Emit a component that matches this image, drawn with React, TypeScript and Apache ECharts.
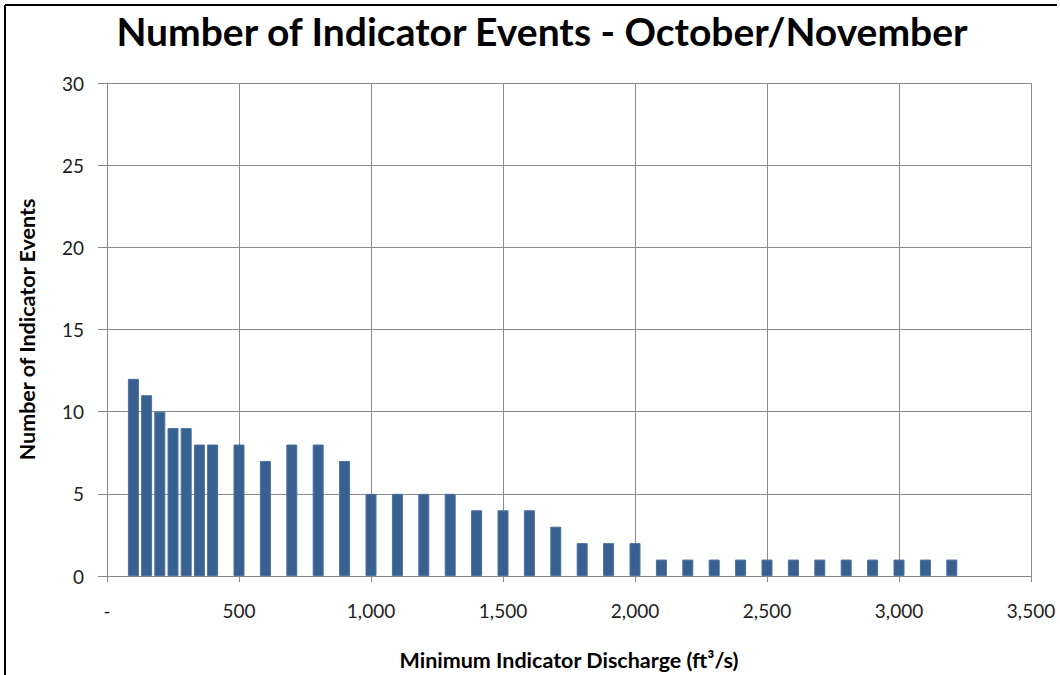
import React, { useEffect, useRef } from "react";
import * as echarts from "echarts";

const discharge = [100, 150, 200, 250, 300, 350, 400, 500, 600, 700, 800, 900, 1000, 1100, 1200, 1300, 1400, 1500, 1600, 1700, 1800, 1900, 2000, 2100, 2200, 2300, 2400, 2500, 2600, 2700, 2800, 2900, 3000, 3100, 3200];
const events = [12, 11, 10, 9, 9, 8, 8, 8, 7, 8, 8, 7, 5, 5, 5, 5, 4, 4, 4, 3, 2, 2, 2, 1, 1, 1, 1, 1, 1, 1, 1, 1, 1, 1, 1];
const titleText = "Number of Indicator Events - October/November";
const yTitle = "Number of Indicator Events";
const xTitle = "Minimum Indicator Discharge (ft³/s)";

const FONT = "Lato, 'Open Sans', sans-serif";

export default function App() {
  const ref = useRef<HTMLDivElement>(null);
  useEffect(() => {
    document.body.style.margin = "0";
    const chart = echarts.init(ref.current!, null, { renderer: "svg" });
    chart.setOption({
      animation: false,
      backgroundColor: "#ffffff",
      title: {
        text: titleText,
        left: 537,
        top: 6,
        textAlign: "center",
        textStyle: { fontFamily: FONT, fontWeight: "bold", fontSize: 39, color: "#000" },
      },
      grid: { left: 107, right: 29, top: 83, bottom: 99, outerBoundsMode: "none", containLabel: false },
      xAxis: {
        type: "value",
        min: 0,
        max: 3500,
        interval: 500,
        name: xTitle,
        nameLocation: "middle",
        nameGap: 73,
        nameTextStyle: { fontFamily: FONT, fontWeight: "bold", fontSize: 21.5, color: "#000" },
        axisLine: { show: true, onZero: false, lineStyle: { color: "#888", width: 1 } },
        axisTick: { show: true, length: 6, lineStyle: { color: "#888" } },
        splitLine: { show: true, lineStyle: { color: "#8c8c8c", width: 1 } },
        axisLabel: {
          margin: 25,
          fontFamily: FONT,
          fontSize: 19,
          color: "#222",
          formatter: (v: number) => (v === 0 ? "-" : v.toLocaleString("en-US")),
        },
      },
      yAxis: {
        type: "value",
        min: 0,
        max: 30,
        interval: 5,
        name: yTitle,
        nameLocation: "middle",
        nameGap: 69,
        nameRotate: 90,
        nameTextStyle: { fontFamily: FONT, fontWeight: "bold", fontSize: 21.5, color: "#000" },
        axisLine: { show: true, lineStyle: { color: "#888", width: 1 } },
        axisTick: { show: true, length: 9, lineStyle: { color: "#888" } },
        splitLine: { show: true, lineStyle: { color: "#8c8c8c", width: 1 } },
        axisLabel: { margin: 23, fontFamily: FONT, fontSize: 19, color: "#222" },
      },
      series: [
        {
          type: "bar",
          barWidth: 11,
          data: discharge.map((d, i) => [d, events[i]]),
          itemStyle: { color: "#386191", borderColor: "#4a72a2", borderWidth: 1 },
        },
      ],
      graphic: [
        { type: "line", shape: { x1: 5, y1: 5, x2: 1057, y2: 5 }, style: { stroke: "#000", lineWidth: 2 } },
        { type: "line", shape: { x1: 5, y1: 5, x2: 5, y2: 675 }, style: { stroke: "#000", lineWidth: 2 } },
      ],
    });
    return () => chart.dispose();
  }, []);
  return <div ref={ref} style={{ width: 1060, height: 675 }} />;
}
